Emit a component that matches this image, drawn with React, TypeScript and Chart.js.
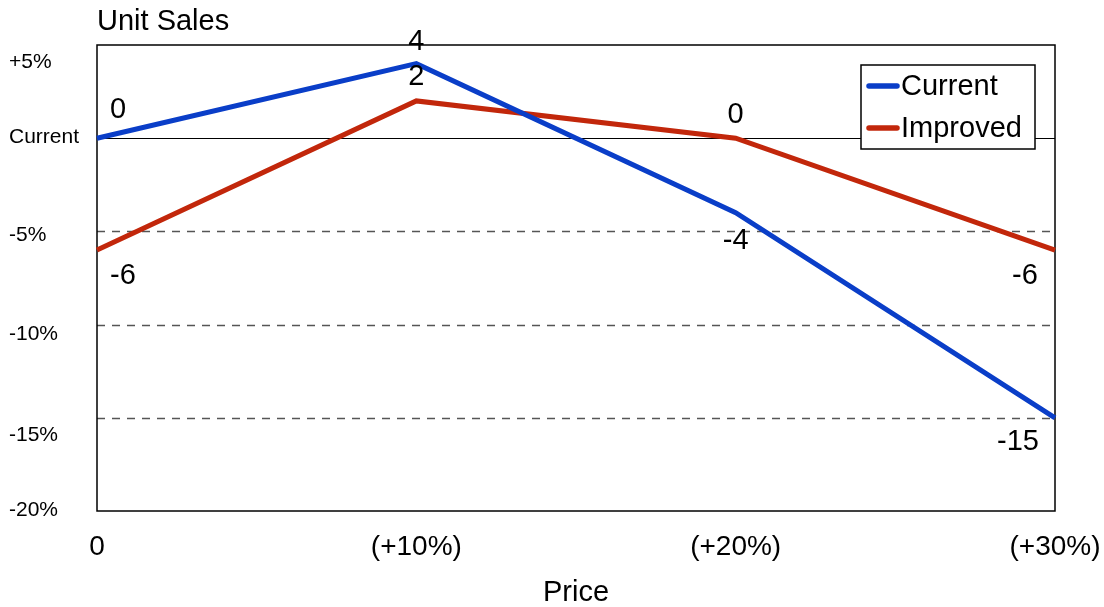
import React, { useEffect, useRef } from "react";
import { Chart, registerables } from "chart.js";

Chart.register(...registerables);

const categories = ["0", "(+10%)", "(+20%)", "(+30%)"];
const currentValues = [0, 4, -4, -15];
const improvedValues = [-6, 2, 0, -6];
const yTickValues = [5, 0, -5, -10, -15, -20];
const yTickLabels = ["+5%", "Current", "-5%", "-10%", "-15%", "-20%"];
const seriesNames = ["Current", "Improved"];
const chartTitle = "Unit Sales";
const xTitle = "Price";

// style only: label nudges in pixels
const yLabelNudge = [17, -1, 4, 10, 17, -1];
const currentLabelOffsets = [[21, -28], [0, -22], [0, 28], [-37, 24]];
const improvedLabelOffsets = [[26, 26], [0, -24], [0, -23], [-30, 26]];

const BLUE = "#0A3EC8";
const RED = "#C2270B";
const FONT = "'Liberation Sans', Arial, Helvetica, sans-serif";

const customPlugin = {
  id: "custom",
  beforeDatasetsDraw(chart: any) {
    const { ctx, chartArea } = chart;
    const y = chart.scales.y;
    ctx.save();
    [-5, -10, -15].forEach((v) => {
      const py = Math.round(y.getPixelForValue(v)) + 0.5;
      ctx.strokeStyle = "#555";
      ctx.lineWidth = 1.3;
      ctx.setLineDash([8, 7]);
      ctx.beginPath();
      ctx.moveTo(chartArea.left, py);
      ctx.lineTo(chartArea.right, py);
      ctx.stroke();
    });
    ctx.setLineDash([]);
    const p0 = Math.round(y.getPixelForValue(0)) + 0.5;
    ctx.strokeStyle = "#000";
    ctx.lineWidth = 1.2;
    ctx.beginPath();
    ctx.moveTo(chartArea.left, p0);
    ctx.lineTo(chartArea.right, p0);
    ctx.stroke();
    ctx.lineWidth = 1.5;
    ctx.strokeRect(
      chartArea.left,
      chartArea.top,
      chartArea.right - chartArea.left,
      chartArea.bottom - chartArea.top
    );
    // y tick labels
    ctx.fillStyle = "#000";
    ctx.font = `21px ${FONT}`;
    ctx.textAlign = "left";
    ctx.textBaseline = "middle";
    yTickValues.forEach((v, i) => {
      ctx.fillText(yTickLabels[i], 9, y.getPixelForValue(v) + yLabelNudge[i]);
    });
    ctx.restore();
  },
  afterDatasetsDraw(chart: any) {
    const { ctx, chartArea } = chart;
    ctx.save();
    // title
    ctx.fillStyle = "#000";
    ctx.font = `29px ${FONT}`;
    ctx.textAlign = "left";
    ctx.textBaseline = "middle";
    ctx.fillText(chartTitle, chartArea.left, chartArea.top - 23);

    // data labels
    const offsets = [currentLabelOffsets, improvedLabelOffsets];
    chart.data.datasets.forEach((ds: any, di: number) => {
      const meta = chart.getDatasetMeta(di);
      meta.data.forEach((pt: any, i: number) => {
        const [dx, dy] = offsets[di][i];
        ctx.textAlign = "center";
        ctx.textBaseline = "middle";
        ctx.font = `29px ${FONT}`;
        ctx.fillText(String(ds.data[i]), pt.x + dx, pt.y + dy);
      });
    });

    // legend
    const lx = chartArea.right - 194;
    const ly = chartArea.top + 20;
    const lw = 174;
    const lh = 84;
    ctx.fillStyle = "#fff";
    ctx.fillRect(lx, ly, lw, lh);
    ctx.strokeStyle = "#000";
    ctx.lineWidth = 1.5;
    ctx.strokeRect(lx, ly, lw, lh);
    const colors = [BLUE, RED];
    seriesNames.forEach((name, i) => {
      const cy = ly + 21 + i * 42;
      ctx.strokeStyle = colors[i];
      ctx.lineWidth = 5.5;
      ctx.lineCap = "round";
      ctx.beginPath();
      ctx.moveTo(lx + 8, cy);
      ctx.lineTo(lx + 36, cy);
      ctx.stroke();
      ctx.fillStyle = "#000";
      ctx.font = `29px ${FONT}`;
      ctx.textAlign = "left";
      ctx.textBaseline = "middle";
      ctx.fillText(name, lx + 40, cy + 1);
    });
    ctx.restore();
  },
};

export default function App() {
  const ref = useRef<HTMLCanvasElement | null>(null);
  useEffect(() => {
    document.body.style.margin = "0";
    const chart = new Chart(ref.current as HTMLCanvasElement, {
      type: "line",
      data: {
        labels: categories,
        datasets: [
          {
            label: seriesNames[0],
            data: currentValues,
            borderColor: BLUE,
            backgroundColor: BLUE,
            borderWidth: 5,
            pointRadius: 0,
            tension: 0,
          },
          {
            label: seriesNames[1],
            data: improvedValues,
            borderColor: RED,
            backgroundColor: RED,
            borderWidth: 5,
            pointRadius: 0,
            tension: 0,
          },
        ],
      },
      options: {
        animation: false,
        responsive: false,
        layout: { padding: { top: 45, left: 10, right: 49, bottom: 0 } },
        plugins: {
          legend: { display: false },
          title: { display: false },
          tooltip: { enabled: false },
        },
        scales: {
          x: {
            offset: false,
            grid: { display: false, drawTicks: false },
            border: { display: false },
            afterFit(scale: any) {
              scale.height = 96;
              scale.paddingLeft = 0;
              scale.paddingRight = 0;
            },
            ticks: {
              color: "#000",
              padding: 19,
              font: { family: FONT, size: 28 },
              maxRotation: 0,
              autoSkip: false,
            },
            title: {
              display: true,
              text: xTitle,
              color: "#000",
              font: { family: FONT, size: 29, lineHeight: 1 },
              padding: { top: 0, bottom: 0 },
            },
          },
          y: {
            min: -20,
            max: 5,
            grid: { display: false, drawTicks: false },
            border: { display: false },
            afterFit(scale: any) {
              scale.width = 87;
              scale.paddingTop = 0;
              scale.paddingBottom = 0;
            },
            ticks: {
              stepSize: 5,
              display: false,
            },
          },
        },
      },
      plugins: [customPlugin],
    });
    return () => chart.destroy();
  }, []);
  return (
    <div style={{ width: 1104, height: 607, background: "#fff" }}>
      <canvas ref={ref} width={1104} height={607} />
    </div>
  );
}
